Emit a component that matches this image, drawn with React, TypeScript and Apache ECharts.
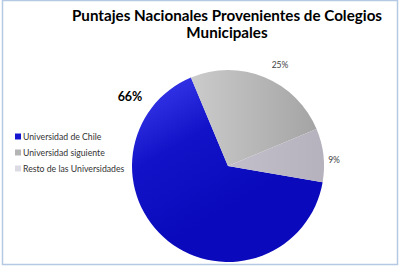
import React, { useEffect, useRef } from "react";
import * as echarts from "echarts";

const categories = ["Universidad de Chile", "Universidad siguiente", "Resto de las Universidades"];
const values = [66, 25, 9];
const labels = ["66%", "25%", "9%"];
const titleLines = ["Puntajes Nacionales Provenientes de Colegios", "Municipales"];

export default function App() {
  const ref = useRef<HTMLDivElement>(null);
  useEffect(() => {
    document.body.style.margin = "0";
    const chart = echarts.init(ref.current!, null, { renderer: "svg" });
    const fills = [
      new echarts.graphic.LinearGradient(0, 0, 0.45, 0.75, [
        { offset: 0, color: "#4040f2" },
        { offset: 0.5, color: "#1212c8" },
        { offset: 1, color: "#0a0abc" },
      ]),
      new echarts.graphic.LinearGradient(0, 0, 1, 0, [
        { offset: 0, color: "#cbcbcb" },
        { offset: 1, color: "#a4a4a4" },
      ]),
      new echarts.graphic.LinearGradient(0, 0, 1, 0, [
        { offset: 0, color: "#c2bfca" },
        { offset: 1, color: "#b6b2bd" },
      ]),
    ];
    const legendColors = ["#1515d0", "#b4b4b4", "#dcdbe4"];
    const labelPos = [
      [130, 96],
      [280, 65],
      [334, 160],
    ];
    chart.setOption({
      animation: false,
      graphic: [
        {
          type: "rect",
          shape: { x: 2.5, y: 0.5, width: 395, height: 264 },
          style: { fill: "none", stroke: "#b5c9e3", lineWidth: 1.5 },
          silent: true,
        },
        {
          type: "text",
          x: 227,
          y: 6,
          style: {
            text: titleLines.join("\n"),
            textAlign: "center",
            fontFamily: "Lato",
            fontWeight: "bold",
            fontSize: 15.2,
            lineHeight: 17,
            fill: "#000000",
          },
        },
      ],
      legend: {
        orient: "vertical",
        left: 10,
        top: 127,
        itemWidth: 6,
        itemHeight: 6,
        itemGap: 7,
        icon: "rect",
        textStyle: { fontFamily: "Lato", fontSize: 8.7, color: "#333333", padding: [0, 0, 0, -3] },
        data: categories.map((c, i) => ({ name: c, itemStyle: { color: legendColors[i] } })),
      },
      series: [
        {
          type: "pie",
          center: [228, 166],
          radius: 96,
          startAngle: -9.7,
          clockwise: true,
          label: {
            show: true,
            formatter: (p: any) => labels[p.dataIndex],
            fontFamily: "Lato",
            fontSize: 8.5,
            color: "#404040",
          },
          labelLine: { show: false },
          labelLayout: (p: any) => ({
            x: labelPos[p.dataIndex][0],
            y: labelPos[p.dataIndex][1],
            align: "center",
            verticalAlign: "middle",
          }),
          data: categories.map((c, i) => ({
            name: c,
            value: values[i],
            itemStyle: { color: fills[i] },
            label:
              i === 0
                ? { fontSize: 12.5, fontWeight: "bold", color: "#000000" }
                : undefined,
          })),
          emphasis: { disabled: true },
        },
      ],
    });
    return () => chart.dispose();
  }, []);
  return <div ref={ref} style={{ width: 400, height: 266 }} />;
}
